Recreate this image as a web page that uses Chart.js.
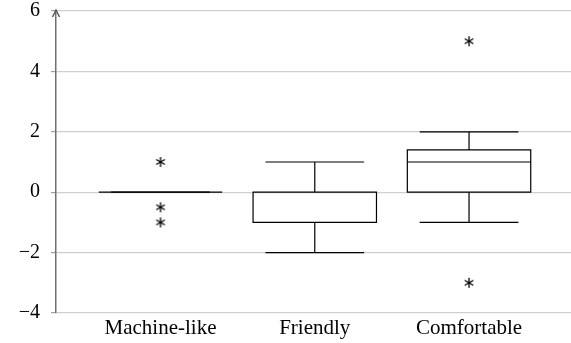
<!DOCTYPE html>
<html>
<head>
<meta charset="utf-8">
<script src="https://cdn.jsdelivr.net/npm/chart.js@4"></script>
<style>
html,body{margin:0;padding:0;background:#fff;}
#c{display:block;}
</style>
</head>
<body>
<canvas id="c" width="571" height="343"></canvas>
<script>
// ---- data ----
const categories = ['Machine-like', 'Friendly', 'Comfortable'];
const whiskerLow  = [0, -2, -1];
const lowerQuart  = [0, -1, 0];
const medians     = [0, 0, 1];
const upperQuart  = [0, 0, 1.4];
const whiskerHigh = [0, 1, 2];
const outliers    = [[1, -0.5, -1], [], [5, -3]];
const yTicks      = [-4, -2, 0, 2, 4, 6];

// asterisk marker
function makeAsterisk(r) {
  const s = r * 2 + 4;
  const cv = document.createElement('canvas');
  cv.width = s; cv.height = s;
  const g = cv.getContext('2d');
  g.strokeStyle = '#000';
  g.lineWidth = 1.3;
  const c = s / 2;
  for (let k = 0; k < 3; k++) {
    const a = Math.PI / 2 + k * Math.PI / 3;
    g.beginPath();
    g.moveTo(c - r * Math.cos(a), c - r * Math.sin(a));
    g.lineTo(c + r * Math.cos(a), c + r * Math.sin(a));
    g.stroke();
  }
  return cv;
}
const star = makeAsterisk(5);

const outlierPoints = [];
outliers.forEach((arr, i) => arr.forEach(v => outlierPoints.push({x: i + 1, y: v})));

const boxPlugin = {
  id: 'boxes',
  afterDatasetsDraw(chart) {
    const ctx = chart.ctx, xs = chart.scales.x, ys = chart.scales.y;
    ctx.save();
    ctx.strokeStyle = '#000';
    ctx.lineWidth = 1.2;
    categories.forEach((c, i) => {
      const xc = i + 1;
      const bl = xs.getPixelForValue(xc - 0.4), br = xs.getPixelForValue(xc + 0.4);
      const wl = xs.getPixelForValue(xc - 0.32), wr = xs.getPixelForValue(xc + 0.32);
      const xm = xs.getPixelForValue(xc);
      const yq1 = ys.getPixelForValue(lowerQuart[i]), yq3 = ys.getPixelForValue(upperQuart[i]);
      const ymed = ys.getPixelForValue(medians[i]);
      const ylo = ys.getPixelForValue(whiskerLow[i]), yhi = ys.getPixelForValue(whiskerHigh[i]);
      // whiskers
      ctx.beginPath();
      ctx.moveTo(xm, yq1); ctx.lineTo(xm, ylo);
      ctx.moveTo(xm, yq3); ctx.lineTo(xm, yhi);
      ctx.moveTo(wl, ylo); ctx.lineTo(wr, ylo);
      ctx.moveTo(wl, yhi); ctx.lineTo(wr, yhi);
      ctx.stroke();
      // box
      ctx.beginPath();
      ctx.rect(bl, yq3, br - bl, yq1 - yq3);
      ctx.moveTo(bl, ymed); ctx.lineTo(br, ymed);
      ctx.stroke();
    });
    // axis arrow
    const ax = chart.chartArea.left, top = chart.chartArea.top;
    ctx.strokeStyle = '#555';
    ctx.lineWidth = 1.4;
    ctx.beginPath();
    ctx.moveTo(ax - 3.5, top + 6);
    ctx.lineTo(ax, top - 1);
    ctx.lineTo(ax + 3.5, top + 6);
    ctx.stroke();
    ctx.restore();
  }
};

new Chart(document.getElementById('c'), {
  type: 'scatter',
  data: {
    datasets: [{
      data: outlierPoints,
      pointStyle: star,
      pointRadius: 6,
      pointHoverRadius: 6
    }]
  },
  plugins: [boxPlugin],
  options: {
    responsive: false,
    animation: false,
    events: [],
    layout: {autoPadding: false, padding: {top: 11, left: 0, right: 0, bottom: 0}},
    plugins: {legend: {display: false}, tooltip: {enabled: false}},
    scales: {
      x: {
        type: 'linear',
        min: 0.3225,
        max: 3.661,
        afterBuildTicks(ax) { ax.ticks = categories.map((c, i) => ({value: i + 1})); },
        afterFit(ax) { ax.height = 30; ax.paddingLeft = 0; ax.paddingRight = 0; },
        ticks: {
          callback: (v) => categories[Math.round(v) - 1],
          color: '#000',
          padding: 3,
          maxRotation: 0,
          autoSkip: false,
          font: {family: 'Liberation Serif', size: 21, lineHeight: 1.2}
        },
        grid: {display: false, drawTicks: false},
        border: {display: false}
      },
      y: {
        min: -4,
        max: 6,
        afterBuildTicks(ax) { ax.ticks = yTicks.map(v => ({value: v})); },
        afterFit(ax) { ax.width = 56; ax.paddingTop = 0; ax.paddingBottom = 0; },
        ticks: {
          callback: (v) => String(v).replace('-', '\u2212'),
          color: '#000',
          padding: 11,
          font: {family: 'Liberation Serif', size: 20, lineHeight: 1}
        },
        grid: {color: '#cfcfcf', lineWidth: 1.2, tickLength: 5, tickColor: '#a0a0a0'},
        border: {display: true, color: '#707070', width: 1.5}
      }
    }
  }
});
</script>
</body>
</html>
